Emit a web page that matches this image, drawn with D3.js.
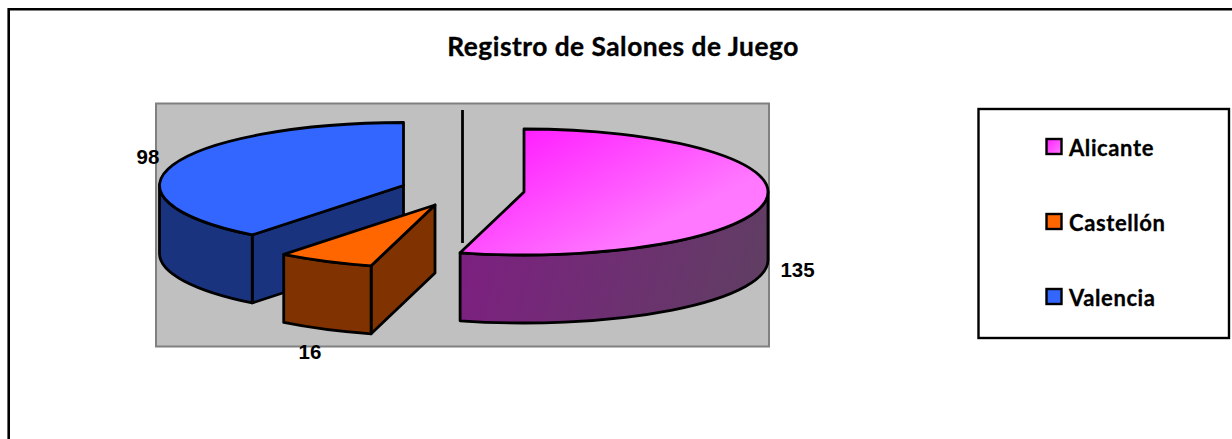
<!DOCTYPE html>
<html><head><meta charset="utf-8">
<script src="https://cdn.jsdelivr.net/npm/d3@7/dist/d3.min.js"></script>
<style>html,body{margin:0;padding:0;background:#fff;overflow:hidden}svg{display:block}</style>
</head><body><svg id="c" width="1232" height="439"></svg>
<script>
const title = "Registro de Salones de Juego";
const categories = ["Alicante", "Castellón", "Valencia"];
const values = [135, 16, 98];
const topColors = ["#FF66FF", "#FF6600", "#3366FF"];
const sideColors = ["#703070", "#803300", "#1A337F"];

// layout
const RX = 244, RY = 63, DEPTH = 68;
const apex = [[524, 192], [435, 205], [403.5, 185.5]];
const labelPos = [[797.5, 277], [310, 359], [148, 164]];

const svg = d3.select("#c");
const defs = svg.append("defs");
const g1 = defs.append("linearGradient").attr("id", "gTop").attr("gradientUnits", "userSpaceOnUse")
  .attr("x1", 540).attr("y1", 125).attr("x2", 610).attr("y2", 255);
g1.append("stop").attr("offset", 0).attr("stop-color", "#FF22FF");
g1.append("stop").attr("offset", 1).attr("stop-color", "#FF78FF");
const g2 = defs.append("linearGradient").attr("id", "gSide").attr("gradientUnits", "userSpaceOnUse")
  .attr("x1", 470).attr("y1", 250).attr("x2", 760).attr("y2", 330);
g2.append("stop").attr("offset", 0).attr("stop-color", "#7C2080");
g2.append("stop").attr("offset", 1).attr("stop-color", "#5F3F62");
const g3 = defs.append("linearGradient").attr("id", "gLeg").attr("x1", 0).attr("y1", 0).attr("x2", 1).attr("y2", 1);
g3.append("stop").attr("offset", 0).attr("stop-color", "#FF22FF");
g3.append("stop").attr("offset", 1).attr("stop-color", "#FF78FF");

// outer frame (open to the right and bottom)
svg.append("path").attr("d", "M8.7,439V9.2H1232").attr("fill", "none").attr("stroke", "#000").attr("stroke-width", 2.6);
svg.append("text").attr("x", 623).attr("y", 55.5).attr("text-anchor", "middle")
  .attr("font-family", "Lato, 'Open Sans', sans-serif").attr("font-weight", 700).attr("font-size", 26.3)
  .attr("letter-spacing", 0.5).attr("stroke", "#000").attr("stroke-width", 0.35)
  .attr("fill", "#000").text(title);

// plot area
svg.append("rect").attr("x", 156).attr("y", 103.5).attr("width", 613).attr("height", 243)
  .attr("fill", "#C0C0C0").attr("stroke", "#808080").attr("stroke-width", 2);
svg.append("line").attr("x1", 462.5).attr("x2", 462.5).attr("y1", 110).attr("y2", 243)
  .attr("stroke", "#000").attr("stroke-width", 2.8);

const arcs = d3.pie().sort(null).value(d => d)(values);
function pt(i, a, dz = 0) {
  return [apex[i][0] + RX * Math.sin(a), apex[i][1] - RY * Math.cos(a) + dz];
}
function topPath(i) {
  const a = arcs[i], p0 = pt(i, a.startAngle), p1 = pt(i, a.endAngle);
  const large = a.endAngle - a.startAngle > Math.PI ? 1 : 0;
  return `M${apex[i]}L${p0}A${RX},${RY} 0 ${large} 1 ${p1}Z`;
}
function wallPath(i, s, e) {
  const p0 = pt(i, s), p1 = pt(i, e), q1 = pt(i, e, DEPTH), q0 = pt(i, s, DEPTH);
  return `M${p0}A${RX},${RY} 0 0 1 ${p1}L${q1}A${RX},${RY} 0 0 0 ${q0}Z`;
}
function cutPath(i, a) {
  const p = pt(i, a), ap = apex[i];
  return `M${ap}L${p}L${pt(i, a, DEPTH)}L${ap[0]},${ap[1] + DEPTH}Z`;
}
function add(d, fill) {
  svg.append("path").attr("d", d).attr("fill", fill)
    .attr("stroke", "#000").attr("stroke-width", 2.8).attr("stroke-linejoin", "round");
}
const RIGHT = Math.PI / 2, LEFT = 1.5 * Math.PI;

// Valencia
add(cutPath(2, arcs[2].startAngle), sideColors[2]);
add(wallPath(2, arcs[2].startAngle, LEFT), sideColors[2]);
add(topPath(2), topColors[2]);
// Castellón
add(cutPath(1, arcs[1].startAngle), sideColors[1]);
add(wallPath(1, arcs[1].startAngle, arcs[1].endAngle), sideColors[1]);
add(topPath(1), topColors[1]);
// Alicante
add(wallPath(0, RIGHT, arcs[0].endAngle), "url(#gSide)");
add(topPath(0), "url(#gTop)");

// data labels
svg.selectAll("text.lab").data(values).join("text").attr("class", "lab")
  .attr("x", (d, i) => labelPos[i][0]).attr("y", (d, i) => labelPos[i][1])
  .attr("text-anchor", "middle").attr("font-family", "'Liberation Sans', Arial, sans-serif")
  .attr("font-weight", 700).attr("font-size", 20.5).attr("fill", "#000").text(d => d);

// legend
svg.append("rect").attr("x", 978.5).attr("y", 109).attr("width", 250.5).attr("height", 229)
  .attr("fill", "#fff").attr("stroke", "#000").attr("stroke-width", 2.4);
const ly = d3.scalePoint().domain(categories).range([147, 297]);
const leg = svg.selectAll("g.leg").data(categories).join("g").attr("class", "leg");
leg.append("rect").attr("x", 1046.5).attr("y", d => ly(d) - 8).attr("width", 15).attr("height", 15)
  .attr("fill", (d, i) => i === 0 ? "url(#gLeg)" : topColors[i]).attr("stroke", "#000").attr("stroke-width", 2.4);
leg.append("text").attr("x", 1069).attr("y", d => ly(d) + 8.5)
  .attr("font-family", "Lato, 'Open Sans', sans-serif").attr("font-weight", 700).attr("font-size", 22)
  .attr("letter-spacing", 0.6).attr("stroke", "#000").attr("stroke-width", 0.3)
  .attr("fill", "#000").text(d => d);
</script></body></html>
